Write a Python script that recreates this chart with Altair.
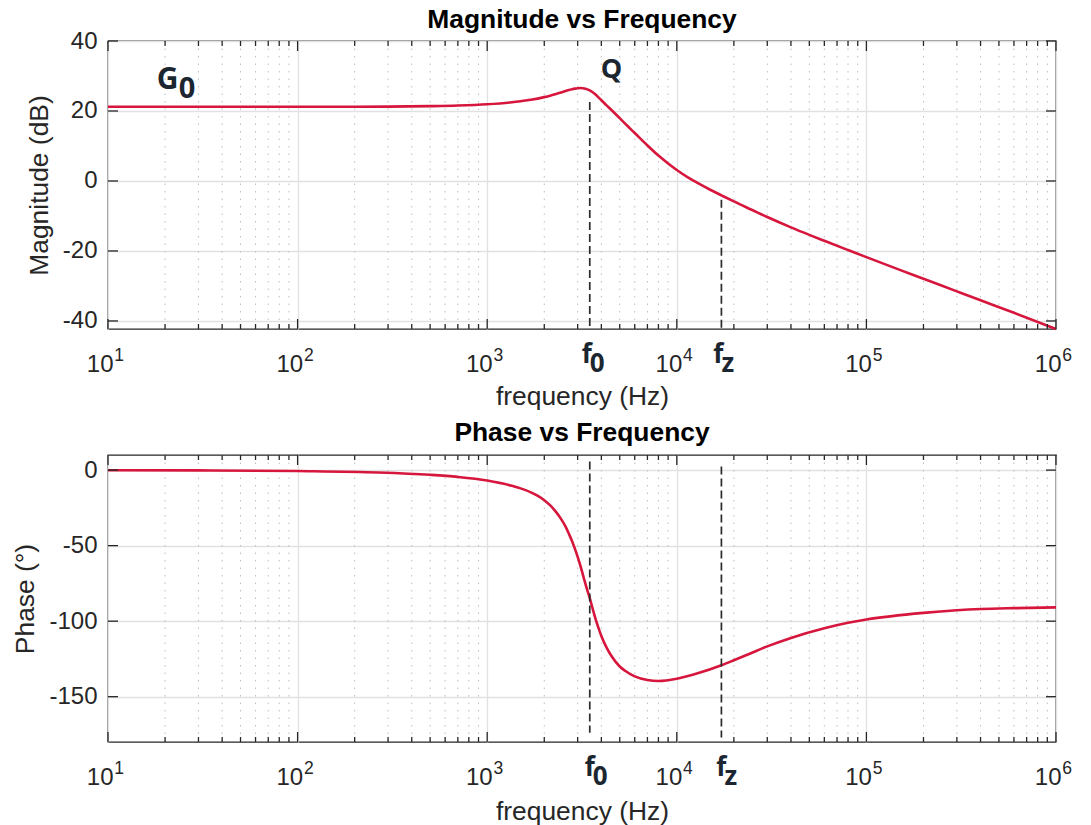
import altair as alt
import pandas as pd

# ---------------- data ----------------
freq_mag = [10, 20, 50, 100, 200, 300, 500, 700, 1000, 1350, 1500, 1700, 2000,
            2150, 2300, 2450, 2590, 2700, 2800, 2900, 3000, 3100, 3200, 3300,
            3450, 3570, 3700, 3850, 4000, 4250, 4550, 5000, 5500, 6000, 7000,
            8000, 9000, 10000, 11500, 13000, 15000, 17190, 20000, 25000, 30000,
            40000, 50000, 60000, 80000, 100000, 150000, 200000, 300000, 400000,
            600000, 1000000]
mag_db = [21.2, 21.2, 21.2, 21.21, 21.23, 21.26, 21.38, 21.55, 21.92, 22.5,
          22.8, 23.21, 23.96, 24.38, 24.83, 25.27, 25.69, 25.99, 26.21, 26.39,
          26.51, 26.55, 26.52, 26.37, 25.96, 25.49, 24.83, 23.97, 23.06, 21.68,
          20.15, 17.95, 15.7, 13.7, 10.15, 7.25, 5.0, 3.15, 0.95, -0.7, -2.5,
          -4.1, -5.85, -8.3, -10.3, -13.25, -15.4, -17.1, -19.74, -21.77,
          -25.4, -27.94, -31.55, -34.1, -37.65, -42.3]

freq_phase = [10, 30, 100, 268, 500, 700, 1000, 1350, 1500, 1700, 1850, 2000,
              2150, 2300, 2450, 2590, 2700, 2800, 2900, 3000, 3100, 3230, 3350,
              3475, 3600, 3720, 3850, 4000, 4250, 4550, 5000, 5360, 6000, 7000,
              8000, 10000, 13000, 17190, 20000, 23900, 30000, 40000, 60000,
              80000, 100000, 200000, 300000, 400000, 600000, 1000000]
phase_deg = [-0.06, -0.18, -0.6, -1.55, -3.1, -4.5, -6.9, -10.4, -12.1, -14.7,
             -17.1, -19.9, -23.4, -27.5, -32.3, -37.4, -42.3, -46.9, -52.0,
             -57.5, -63.3, -71.3, -78.3, -84.8, -91.8, -98.2, -104.0, -109.8,
             -117.2, -123.6, -130.0, -133.0, -136.6, -139.0, -139.6, -138.1,
             -134.4, -129.2, -125.9, -121.9, -116.7, -111.1, -104.7, -101.1,
             -98.9, -94.5, -92.8, -92.0, -91.4, -90.9]

decade_ticks = [10, 100, 1000, 10000, 100000, 1000000]
decade_exp = ["1", "2", "3", "4", "5", "6"]
minor_ticks = [20, 30, 40, 50, 60, 70, 80, 90,
               200, 300, 400, 500, 600, 700, 800, 900,
               2000, 3000, 4000, 5000, 6000, 7000, 8000, 9000,
               20000, 30000, 40000, 50000, 60000, 70000, 80000, 90000,
               200000, 300000, 400000, 500000, 600000, 700000, 800000, 900000]
mag_ticks = [-40, -20, 0, 20, 40]
phase_ticks = [-150, -100, -50, 0]

F0 = 3475
FZ = 17190
guide_freq = [F0, FZ]
mag_guide_top = [22.6, -5.4]
mag_guide_bot = [-42.3, -42.3]
phase_guide_top = [5.7, 2.4]
phase_guide_bot = [-173.8, -177.1]

# annotation anchors (data coordinates)
g_freq, g_db = 20.6, 26.4
g_sub_freq, g_sub_db = 26.1, 23.6
q_freq, q_db = 4521, 29.5

# ---------------- styling ----------------
W = 948
H1 = 288
H2 = 287
RED = "#D6163C"
DARK = "#262626"
ANN = "#1C2630"
FONT = "Liberation Sans"
AFONT = "Open Sans"

xs = alt.Scale(type="log", domain=[10, 1000000], nice=False)
XAX = alt.Axis(values=decade_ticks, grid=True, labels=False, ticks=False,
               domain=False, title="frequency (Hz)", titlePadding=54)


def panel(fv, vv, ydom, yticks, ytitle, title, H, gtop, gbot, toff,
          sub_dx=0.0, xt_pad=54, extra=None):
    ys = alt.Scale(domain=ydom, nice=False, zero=False)
    xax = alt.Axis(values=decade_ticks, grid=True, labels=False, ticks=False,
                   domain=False, title="frequency (Hz)", titlePadding=xt_pad)
    yax = alt.Axis(values=yticks, grid=True, ticks=False, domain=False,
                   labelExpr="'' + datum.value", labelPadding=11,
                   title=ytitle, titlePadding=9)
    curve_df = pd.DataFrame({"f": fv, "v": vv})
    minor_df = pd.DataFrame({"t": minor_ticks})
    dec_df = pd.DataFrame({"t": decade_ticks, "e": decade_exp, "b": ["10"] * 6})
    yt_df = pd.DataFrame({"v": yticks})
    guide_df = pd.DataFrame({"f": guide_freq, "y1": gtop, "y2": gbot})
    xn = lambda fld: alt.X(fld, type="quantitative", scale=xs, axis=xax,
                           title="frequency (Hz)")
    yn = lambda fld: alt.Y(fld, type="quantitative", scale=ys, axis=yax,
                           title=ytitle)

    minor_grid = alt.Chart(minor_df).mark_rule(
        color="#bdbdbd", strokeWidth=1, strokeDash=[1.5, 6]
    ).encode(x=xn("t"), y=alt.value(0), y2=alt.value(H))

    curve = alt.Chart(curve_df).mark_line(
        color=RED, strokeWidth=2.6, interpolate="monotone"
    ).encode(x=xn("f"), y=yn("v"))

    guides = alt.Chart(guide_df).mark_rule(
        color="#2b2b2b", strokeWidth=1.7, strokeDash=[8, 4]
    ).encode(x=xn("f"), y=yn("y1"), y2="y2")

    tick_kw = dict(color=DARK, strokeWidth=1.3)
    maj_top = alt.Chart(dec_df).mark_rule(**tick_kw).encode(
        x=xn("t"), y=alt.value(0), y2=alt.value(10))
    maj_bot = alt.Chart(dec_df).mark_rule(**tick_kw).encode(
        x=xn("t"), y=alt.value(H), y2=alt.value(H - 10))
    min_top = alt.Chart(minor_df).mark_rule(**tick_kw).encode(
        x=xn("t"), y=alt.value(0), y2=alt.value(5))
    min_bot = alt.Chart(minor_df).mark_rule(**tick_kw).encode(
        x=xn("t"), y=alt.value(H), y2=alt.value(H - 5))
    y_left = alt.Chart(yt_df).mark_rule(**tick_kw).encode(
        y=yn("v"), x=alt.value(0), x2=alt.value(10))
    y_right = alt.Chart(yt_df).mark_rule(**tick_kw).encode(
        y=yn("v"), x=alt.value(W), x2=alt.value(W - 10))

    lab_base = alt.Chart(dec_df).mark_text(
        align="right", baseline="alphabetic", dx=5.5, font=FONT,
        fontSize=24, color=DARK
    ).encode(x=xn("t"), y=alt.value(H + 43.4), text="b:N")
    lab_exp = alt.Chart(dec_df).mark_text(
        align="left", baseline="alphabetic", dx=6.3, font=FONT,
        fontSize=17.5, color=DARK
    ).encode(x=xn("t"), y=alt.value(H + 32.4), text="e:N")

    ann_df = pd.DataFrame({"f": guide_freq, "s": ["0", "z"]})
    f_main = alt.Chart(ann_df).mark_text(
        align="right", baseline="alphabetic", dx=2 + sub_dx, font=AFONT,
        fontWeight="bold", fontSize=26, color=ANN
    ).encode(x=xn("f"), y=alt.value(H + 34), text=alt.value("f"))
    f_sub = alt.Chart(ann_df).mark_text(
        align="left", baseline="alphabetic", dx=0 + sub_dx, font=AFONT,
        fontWeight="bold", fontSize=26, color=ANN
    ).encode(x=xn("f"), y=alt.value(H + 43), text="s:N")

    layers = [minor_grid, curve, guides, maj_top, maj_bot, min_top, min_bot,
              y_left, y_right, lab_base, lab_exp, f_main, f_sub]
    if extra is not None:
        layers += extra(xn, yn)
    return alt.layer(*layers).properties(
        width=W, height=H,
        title=alt.Title(title, fontSize=26.4, fontWeight="bold", font=FONT,
                        color="black", offset=toff, anchor="middle"),
    )


def mag_extra(xn, yn):
    g_df = pd.DataFrame({"f": [g_freq], "v": [g_db]})
    g0_df = pd.DataFrame({"f": [g_sub_freq], "v": [g_sub_db]})
    q_df = pd.DataFrame({"f": [q_freq], "v": [q_db]})
    kw = dict(baseline="alphabetic", align="center", font=AFONT,
              fontWeight="bold", color=ANN)
    g = alt.Chart(g_df).mark_text(fontSize=30, **kw).encode(
        x=xn("f"), y=yn("v"), text=alt.value("G"))
    g0 = alt.Chart(g0_df).mark_text(fontSize=29, **kw).encode(
        x=xn("f"), y=yn("v"), text=alt.value("0"))
    q = alt.Chart(q_df).mark_text(fontSize=27, **kw).encode(
        x=xn("f"), y=yn("v"), text=alt.value("Q"))
    return [g, g0, q]


top = panel(freq_mag, mag_db, [-42.3, 40], mag_ticks, "Magnitude (dB)",
            "Magnitude vs Frequency", H1, mag_guide_top, mag_guide_bot,
            toff=-4, extra=mag_extra)
bottom = panel(freq_phase, phase_deg, [-180, 10], phase_ticks, "Phase (°)",
               "Phase vs Frequency", H2, phase_guide_top, phase_guide_bot,
               toff=7.5, sub_dx=3, xt_pad=56)

chart = alt.vconcat(top, bottom, spacing=8).properties(
    padding={"left": 12, "top": 5, "right": 5, "bottom": 5},
    background="white",
).configure_view(
    stroke=DARK, strokeWidth=1.3
).configure_axis(
    labelFont=FONT, titleFont=FONT, labelFontSize=24, titleFontSize=26.4,
    labelColor=DARK, titleColor=DARK, titleFontWeight="normal",
    gridColor="#e1e1e1", gridWidth=1.3
)

chart.save("out.html", embed_options={"renderer": "svg", "actions": False})
